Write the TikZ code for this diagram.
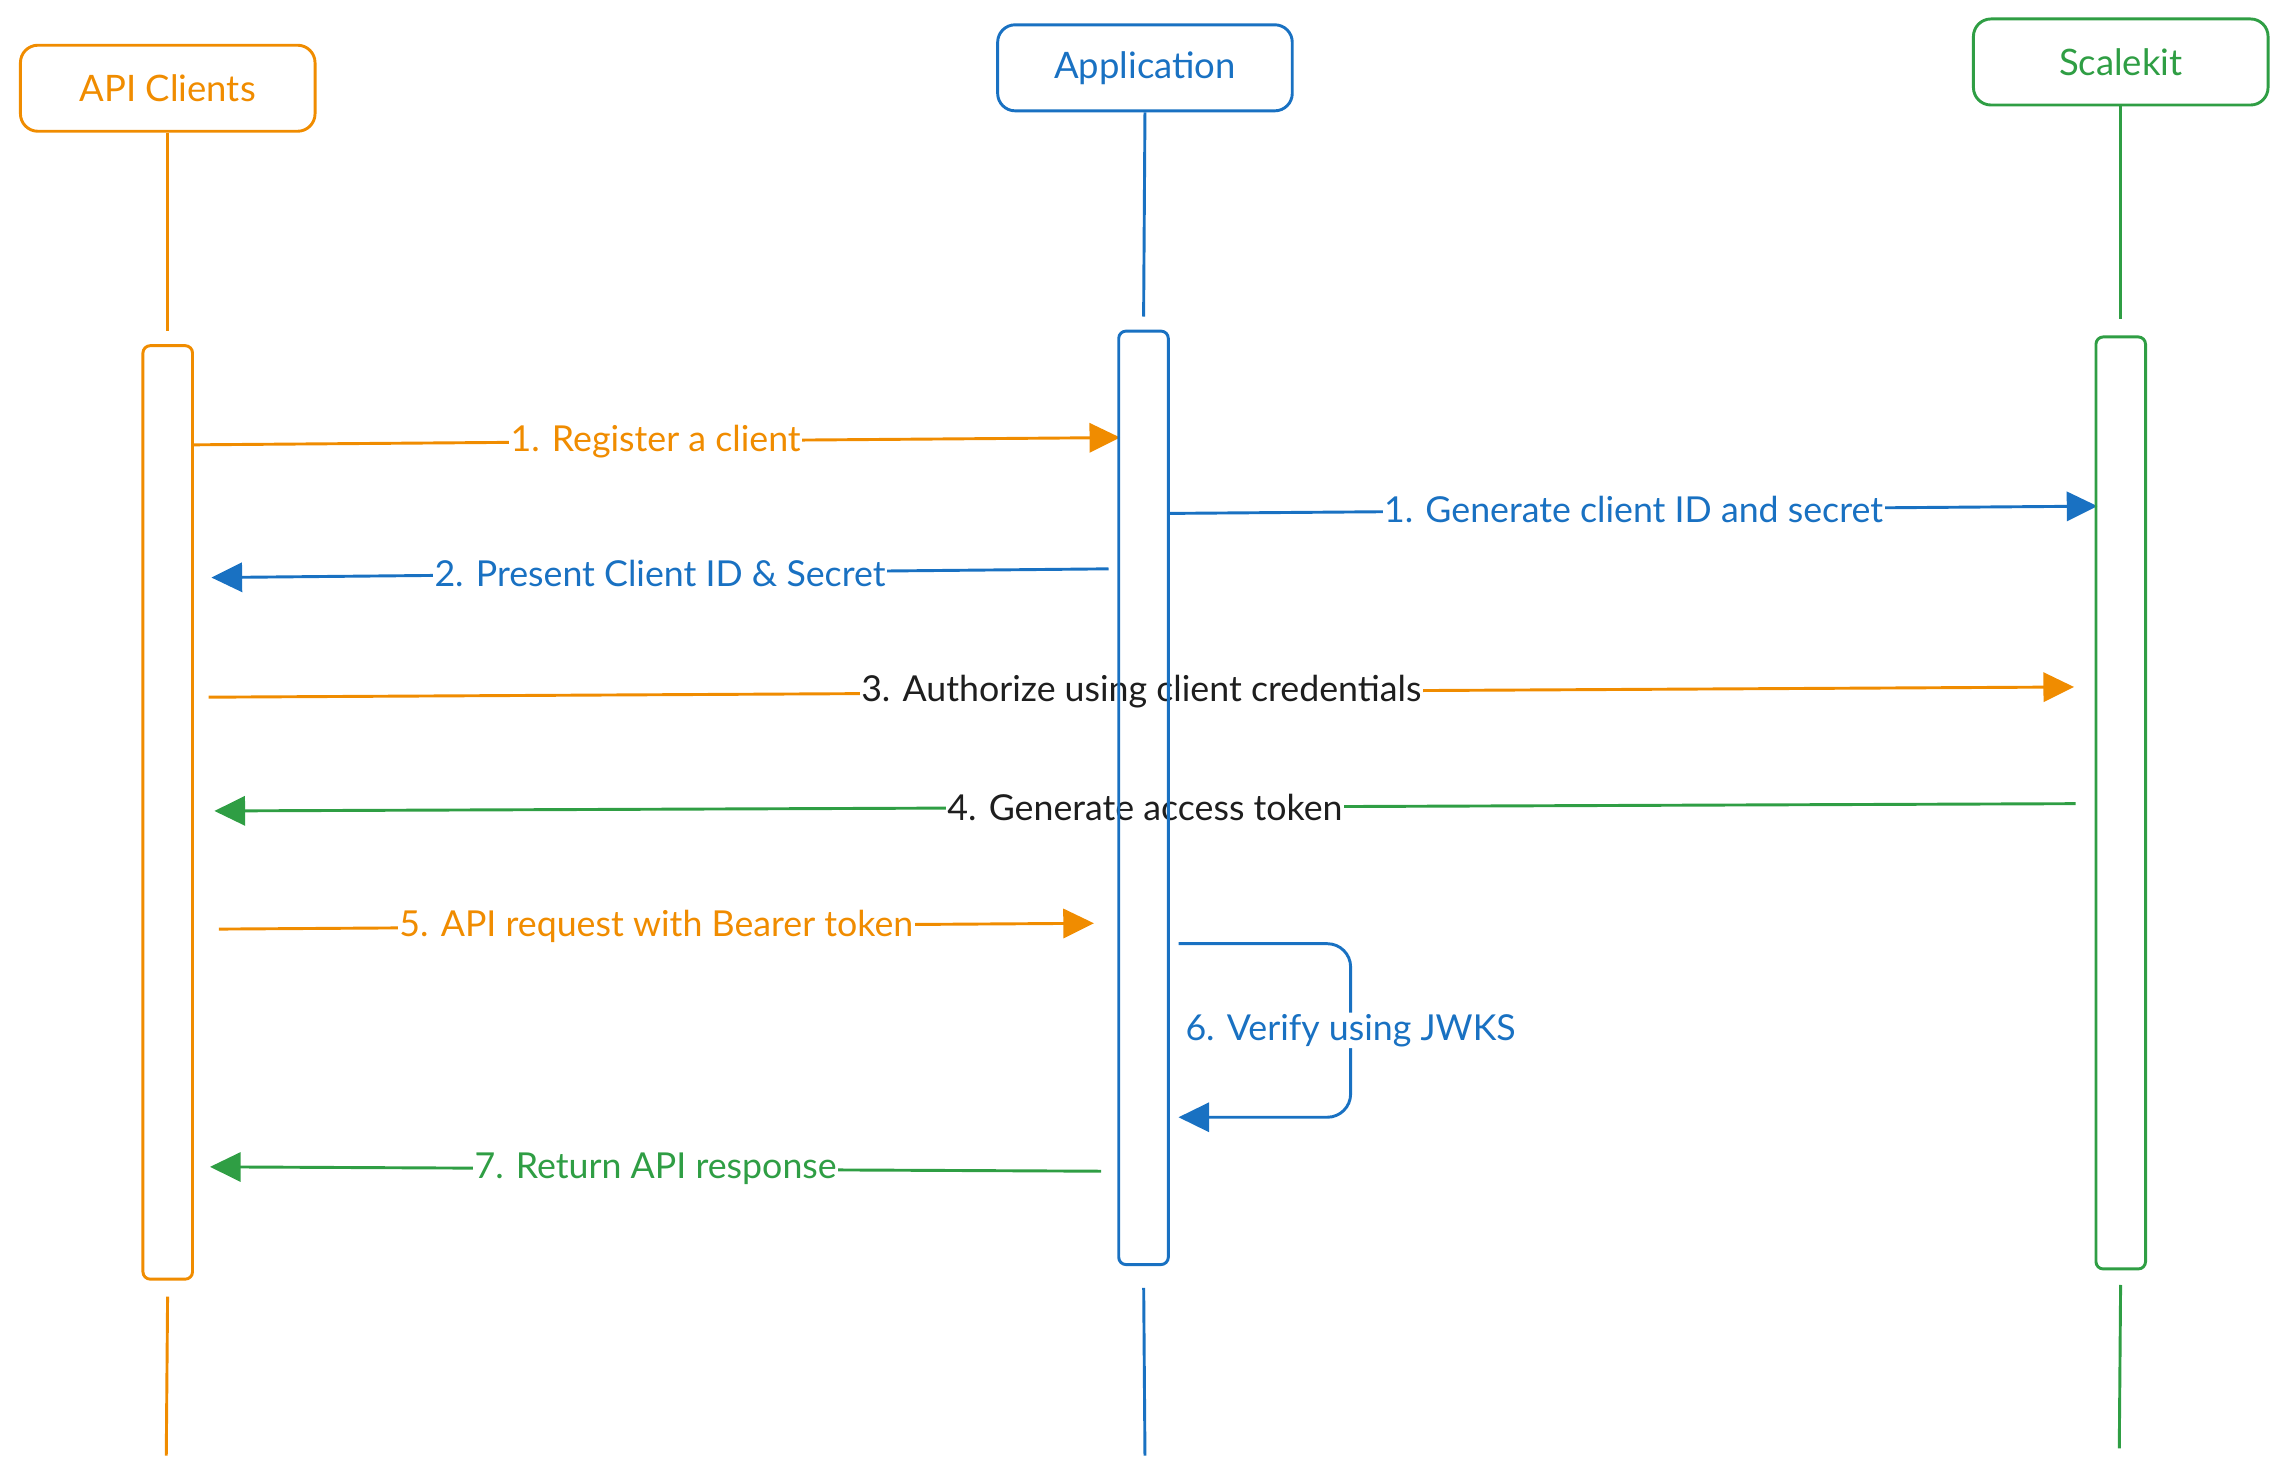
\documentclass[tikz,border=0pt]{standalone}
\usepackage{fontspec}
\setmainfont{Lato}
\usetikzlibrary{arrows.meta}
\definecolor{cOr}{HTML}{F08C00}
\definecolor{cBl}{HTML}{1971C2}
\definecolor{cGr}{HTML}{2F9E44}
\definecolor{cBk}{HTML}{1E1E1E}
\begin{document}
\begin{tikzpicture}[x=1pt,y=-1pt,
  actor/.style={draw, line width=2pt, rounded corners=12pt, minimum width=202pt, minimum height=59pt, font=\fontsize{25}{30}\selectfont, inner sep=0pt},
  actbar/.style={draw, line width=2pt, rounded corners=5pt, minimum width=32pt, inner sep=0pt},
  life/.style={line width=2pt},
  msg/.style={line width=2pt, -{Triangle[length=21pt,width=20pt]}},
  lbl/.style={fill=white, inner sep=1pt, font=\fontsize{24.5}{29}\selectfont}]
\useasboundingbox (0,0) rectangle (1568,1014);

% actors
\node[actor, cOr] (api) at (115,60.5) {API Clients};
\node[actor, cBl] (app) at (785,46.5) {Application};
\node[actor, cGr] (sk) at (1454,42.5) {Scalekit};

% activation bar placeholders (drawn later)
\path (115,557) node[actbar, minimum height=638pt, draw=none] (apibar) {};
\path (784,547) node[actbar, minimum height=638pt, draw=none] (appbar) {};
\path (1454,550.5) node[actbar, minimum height=637pt, draw=none] (skbar) {};

% lifelines
\coordinate (apiend) at (114,998);
\coordinate (append) at (785,998);
\coordinate (skend) at (1453,993);
\draw[life, cOr, shorten >=10pt] (api.south) -- (apibar.north);
\draw[life, cBl, shorten >=10pt] (app.south) -- (appbar.north);
\draw[life, cGr, shorten >=12pt] (sk.south) -- (skbar.north);
\draw[life, cOr, shorten <=12pt] (apibar.south) -- (apiend);
\draw[life, cBl, shorten <=16pt] (appbar.south) -- (append);
\draw[life, cGr, shorten <=11pt] (skbar.south) -- (skend);

% message endpoints
\coordinate (m1s) at (131,305);  \coordinate (m1e) at (768,300);
\coordinate (m2s) at (802,352);  \coordinate (m2e) at (1438,347);
\coordinate (m3s) at (760,390);  \coordinate (m3e) at (145,396);
\coordinate (m4s) at (143,478);  \coordinate (m4e) at (1422,471);
\coordinate (m5s) at (1423,551); \coordinate (m5e) at (147,556);
\coordinate (m6s) at (150,637);  \coordinate (m6e) at (750,633);
\coordinate (l1) at (808,647);   \coordinate (l2) at (926,647);
\coordinate (l3) at (926,766);   \coordinate (l4) at (808,766);
\coordinate (m7s) at (755,803);  \coordinate (m7e) at (144,800);

% messages
\draw[msg, cOr] (m1s) -- node[lbl, text=cOr] {1. Register a client} (m1e);
\draw[msg, cBl] (m2s) -- node[lbl, text=cBl] {1. Generate client ID and secret} (m2e);
\draw[msg, cBl] (m3s) -- node[lbl, text=cBl] {2. Present Client ID \& Secret} (m3e);
\draw[msg, cOr] (m4s) -- node[lbl, text=cBk] {3. Authorize using client credentials} (m4e);
\draw[msg, cGr] (m5s) -- node[lbl, text=cBk] {4. Generate access token} (m5e);
\draw[msg, cOr] (m6s) -- node[lbl, text=cOr] {5. API request with Bearer token} (m6e);
\draw[msg, cBl, rounded corners=16pt] (l1) -- (l2) -- node[lbl, text=cBl] {6. Verify using JWKS} (l3) -- (l4);
\draw[msg, cGr] (m7s) -- node[lbl, text=cGr] {7. Return API response} (m7e);

% activation bars
\draw[line width=2pt, cOr, rounded corners=5pt] (apibar.south west) rectangle (apibar.north east);
\draw[line width=2pt, cBl, rounded corners=5pt] (appbar.south west) rectangle (appbar.north east);
\draw[line width=2pt, cGr, rounded corners=5pt] (skbar.south west) rectangle (skbar.north east);
\end{tikzpicture}
\end{document}
